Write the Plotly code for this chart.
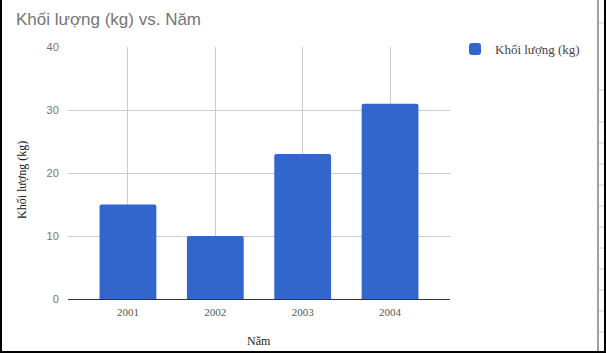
import plotly.graph_objects as go

years = ["2001", "2002", "2003", "2004"]
weights = [15, 10, 23, 31]
series_name = "Khối lượng (kg)"
title_text = "Khối lượng (kg) vs. Năm"
x_title = "Năm"
y_title = "Khối lượng (kg)"
y_ticks = [0, 10, 20, 30, 40]

W, H = 606, 353
L, R, T, B = 68, 450, 47, 299  # plot area in px


def px(x):
    return (x - L) / (R - L)


def py(y):
    return (B - y) / (B - T)


fig = go.Figure()
fig.add_trace(go.Bar(
    x=years, y=weights, name=series_name,
    marker=dict(color="#3366cc", line=dict(width=0), cornerradius=2),
    width=0.65, showlegend=True,
))

shapes = []
# black frame (left, right, bottom)
shapes.append(dict(type="rect", xref="paper", yref="paper", x0=px(0), x1=px(2), y0=py(353), y1=py(0),
                   fillcolor="#000", line=dict(width=0), layer="above"))
shapes.append(dict(type="rect", xref="paper", yref="paper", x0=px(604), x1=px(606), y0=py(353), y1=py(0),
                   fillcolor="#000", line=dict(width=0), layer="above"))
shapes.append(dict(type="rect", xref="paper", yref="paper", x0=px(0), x1=px(606), y0=py(353), y1=py(351),
                   fillcolor="#000", line=dict(width=0), layer="above"))
# spreadsheet edge on the right
shapes.append(dict(type="rect", xref="paper", yref="paper", x0=px(597), x1=px(599), y0=py(351), y1=py(0),
                   fillcolor="#a0a0a0", line=dict(width=0), layer="above"))
for ty in [23, 90, 122, 143, 164, 185, 206, 227, 248, 269, 290, 311, 332]:
    shapes.append(dict(type="line", xref="paper", yref="paper", x0=px(599), x1=px(604), y0=py(ty), y1=py(ty),
                       line=dict(color="#d0d0d0", width=1), layer="above"))

annotations = [
    dict(text=x_title, xref="paper", yref="paper", x=px(259), y=py(341), showarrow=False,
         font=dict(family="Liberation Serif", size=12, color="#222"), xanchor="center", yanchor="middle"),
    dict(text=y_title, xref="paper", yref="paper", x=px(22), y=py(180), showarrow=False, textangle=-90,
         font=dict(family="Liberation Serif", size=12, color="#222"), xanchor="center", yanchor="middle"),
]

fig.update_layout(
    width=W, height=H,
    margin=dict(l=L, r=W - R, t=T, b=H - B, pad=0),
    paper_bgcolor="white", plot_bgcolor="white",
    title=dict(text=title_text, x=16 / W, xref="container", xanchor="left", y=1 - 19 / H, yanchor="middle",
               font=dict(family="Liberation Sans", size=17, color="#757575")),
    xaxis=dict(range=[-0.686, 3.686], showgrid=True, gridcolor="#cccccc", gridwidth=1,
               tickfont=dict(family="Liberation Serif", size=11, color="#555"),
               ticks="outside", ticklen=3, tickcolor="rgba(0,0,0,0)", showline=False, zeroline=False),
    yaxis=dict(range=[0, 40], tickvals=y_ticks, showgrid=True, gridcolor="#cccccc", gridwidth=1,
               tickfont=dict(family="Liberation Sans", size=11, color="#757575"),
               ticks="outside", ticklen=6, tickcolor="rgba(0,0,0,0)",
               zeroline=True, zerolinecolor="#333333", zerolinewidth=1, showline=False),
    legend=dict(x=px(455), y=py(34), xanchor="left", yanchor="top",
                font=dict(family="Liberation Serif", size=13, color="#444"),
                bgcolor="rgba(0,0,0,0)"),
    shapes=shapes, annotations=annotations,
    bargap=0.35,
)

fig.write_html("out.html")
